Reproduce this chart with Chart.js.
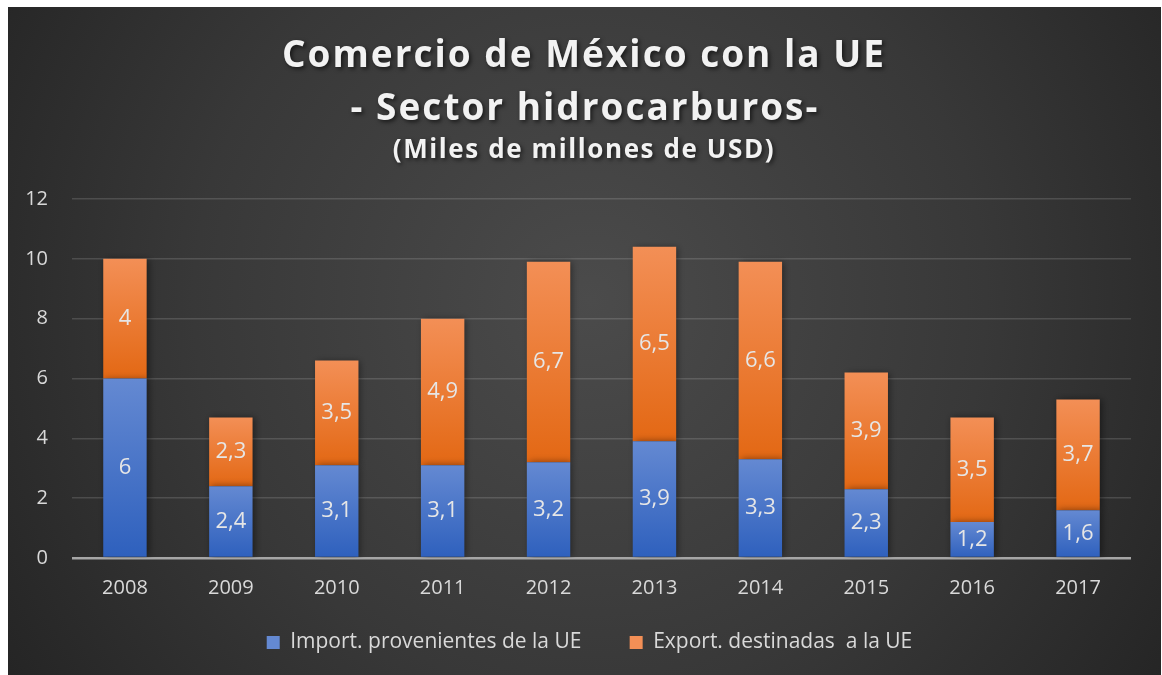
<!DOCTYPE html>
<html>
<head>
<meta charset="utf-8">
<script src="https://cdn.jsdelivr.net/npm/chart.js@4.4.0/dist/chart.umd.min.js"></script>
<style>
  html, body { margin: 0; padding: 0; background: #ffffff; }
  #wrap { width: 1162px; height: 675px; position: relative; }
</style>
</head>
<body>
<div id="wrap"><canvas id="c" width="1162" height="675"></canvas></div>
<script>
const categories = ['2008','2009','2010','2011','2012','2013','2014','2015','2016','2017'];
const importValues = [6, 2.4, 3.1, 3.1, 3.2, 3.9, 3.3, 2.3, 1.2, 1.6];
const exportValues = [4, 2.3, 3.5, 4.9, 6.7, 6.5, 6.6, 3.9, 3.5, 3.7];
const seriesNames = ['Import. provenientes de la UE', 'Export. destinadas  a la UE'];
const titleLines = ['Comercio de México con la UE', '- Sector hidrocarburos-', '(Miles de millones de USD)'];
const yTicks = [0, 2, 4, 6, 8, 10, 12];

const allSeries = [importValues, exportValues];
const gradStops = [
  ['#6489d2', '#2e60bd'],
  ['#f38f56', '#e36814']
];

function segGradient(ctx, dsIndex) {
  const chart = ctx.chart;
  const i = ctx.dataIndex;
  const ys = chart.scales && chart.scales.y;
  if (!ys || i === undefined) return gradStops[dsIndex][1];
  let base = 0;
  for (let d = 0; d < dsIndex; d++) base += allSeries[d][i];
  const top = base + allSeries[dsIndex][i];
  const yTop = ys.getPixelForValue(top);
  const yBot = ys.getPixelForValue(base);
  if (!isFinite(yTop) || !isFinite(yBot) || yTop === yBot) return gradStops[dsIndex][1];
  const g = chart.ctx.createLinearGradient(0, yTop, 0, yBot);
  g.addColorStop(0, gradStops[dsIndex][0]);
  g.addColorStop(1, gradStops[dsIndex][1]);
  return g;
}

const bgPlugin = {
  id: 'bg',
  beforeDraw(chart) {
    const c = chart.ctx;
    c.save();
    c.fillStyle = '#ffffff';
    c.fillRect(0, 0, chart.width, chart.height);
    const g = c.createRadialGradient(590, 300, 0, 590, 300, 720);
    g.addColorStop(0, '#4b4b4b');
    g.addColorStop(0.55, '#383838');
    g.addColorStop(1, '#232323');
    c.fillStyle = g;
    c.fillRect(8, 7, 1153, 668);
    c.restore();
  }
};

const legendShift = {
  id: 'legendShift',
  afterLayout(chart) {
    if (chart.legend) { chart.legend.left += 20; chart.legend.right += 20; }
  }
};

const titlePlugin = {
  id: 'customTitle',
  afterDraw(chart) {
    const c = chart.ctx;
    c.save();
    c.textAlign = 'center';
    c.textBaseline = 'middle';
    c.fillStyle = '#f2f2f2';
    c.shadowColor = 'rgba(0,0,0,0.6)';
    c.shadowBlur = 4;
    c.shadowOffsetX = 2;
    c.shadowOffsetY = 2;
    try { c.letterSpacing = '2px'; } catch (e) {}
    c.font = 'bold 37px "Open Sans"';
    c.fillText(titleLines[0], 584, 56);
    c.fillText(titleLines[1], 585, 109);
    try { c.letterSpacing = '1.6px'; } catch (e) {}
    c.font = 'bold 26px "Open Sans"';
    c.fillText(titleLines[2], 584, 151);
    c.restore();
  }
};

const shadowPlugin = {
  id: 'barShadow',
  beforeDatasetsDraw(chart) {
    const c = chart.ctx;
    c.save();
    c.shadowColor = 'rgba(0,0,0,0.45)';
    c.shadowBlur = 7;
    c.shadowOffsetX = 2;
    c.shadowOffsetY = 0;
  },
  afterDatasetsDraw(chart) {
    chart.ctx.restore();
  }
};

const labelPlugin = {
  id: 'segLabels',
  afterDatasetsDraw(chart) {
    const c = chart.ctx;
    c.save();
    c.font = '22px "Open Sans"';
    c.fillStyle = '#e6e6e6';
    c.textAlign = 'center';
    c.textBaseline = 'middle';
    chart.data.datasets.forEach((ds, di) => {
      const meta = chart.getDatasetMeta(di);
      meta.data.forEach((el, i) => {
        const v = ds.data[i];
        const y = (el.y + el.base) / 2;
        c.fillText(String(v).replace('.', ','), el.x, y);
      });
    });
    c.restore();
  }
};

new Chart(document.getElementById('c'), {
  type: 'bar',
  data: {
    labels: categories,
    datasets: [
      { label: seriesNames[0], data: importValues, backgroundColor: (ctx) => segGradient(ctx, 0), borderWidth: 0 },
      { label: seriesNames[1], data: exportValues, backgroundColor: (ctx) => segGradient(ctx, 1), borderWidth: 0 }
    ]
  },
  options: {
    responsive: false,
    animation: false,
    devicePixelRatio: 1,
    layout: { padding: { left: 8, right: 31, top: 199, bottom: 12 } },
    datasets: { bar: { categoryPercentage: 1, barPercentage: 0.41 } },
    scales: {
      x: {
        stacked: true,
        grid: { display: false },
        border: { display: false },
        ticks: { color: '#d9d9d9', font: { family: '"Open Sans"', size: 20 }, padding: 10 },
        afterFit(s) { s.height = 64; }
      },
      y: {
        stacked: true,
        min: 0, max: 12,
        afterBuildTicks(s) { s.ticks = yTicks.map(v => ({ value: v })); },
        afterFit(s) { s.width = 64; },
        border: { display: false },
        grid: {
          drawTicks: false,
          color: (ctx) => ctx.tick && ctx.tick.value === 0 ? '#a6a6a6' : 'rgba(255,255,255,0.14)',
          lineWidth: (ctx) => ctx.tick && ctx.tick.value === 0 ? 2.5 : 1.5
        },
        ticks: { color: '#d9d9d9', font: { family: '"Open Sans"', size: 20 }, padding: 24 }
      }
    },
    plugins: {
      title: { display: false },
      tooltip: { enabled: false },
      legend: {
        position: 'bottom',
        labels: {
          color: '#d9d9d9',
          font: { family: '"Open Sans"', size: 21 },
          boxWidth: 13, boxHeight: 13,
          padding: 10,
          generateLabels(chart) {
            return chart.data.datasets.map((ds, i) => ({
              text: ds.label + (i === 0 ? '       ' : ''),
              fillStyle: gradStops[i][0],
              strokeStyle: 'rgba(0,0,0,0)',
              lineWidth: 0,
              fontColor: '#d9d9d9',
              hidden: false,
              datasetIndex: i
            }));
          }
        }
      }
    }
  },
  plugins: [bgPlugin, legendShift, shadowPlugin, labelPlugin, titlePlugin]
});
</script>
</body>
</html>
